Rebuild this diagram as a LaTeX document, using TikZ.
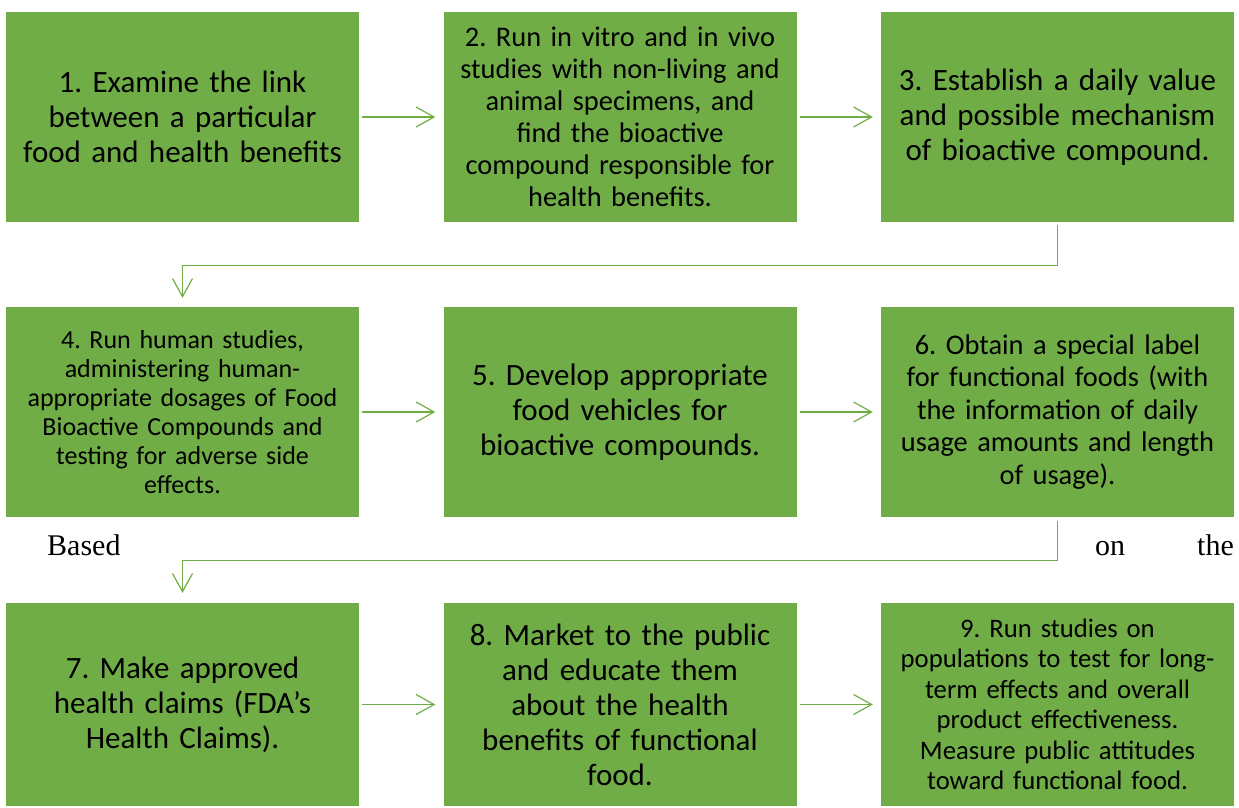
\documentclass[tikz,border=0pt]{standalone}
\usepackage{fontspec}
\setmainfont{Carlito}
\newfontfamily\tnr{Liberation Serif}
\usetikzlibrary{arrows.meta}
\definecolor{accgreen}{HTML}{70AD47}
\frenchspacing
\tikzset{
  stepbox/.style={fill=accgreen, draw=none, inner sep=0pt, minimum width=353pt,
    minimum height=210pt, text width=350pt, align=center, text=black},
  lowbox/.style={stepbox, minimum height=203pt},
  arr/.style={draw=accgreen, line width=1.2pt,
    -{Straight Barb[length=18pt,width=20pt,line width=1.2pt]}},
  bigtxt/.style={font=\fontsize{31}{35}\selectfont},
  plain/.style={font=\tnr\fontsize{30}{36}\selectfont, inner sep=0pt, anchor=base west}
}
\begin{document}
\begin{tikzpicture}[x=1pt,y=-1pt]
\useasboundingbox (0,0) rectangle (1239,807);
% row 1
\node[stepbox, bigtxt] (b1) at (182.5,117) {1. Examine the link\\between a particular\\food and health benefits};
\node[stepbox, font=\fontsize{28.4}{32}\selectfont] (b2) at (620,117) {2. Run in vitro and in vivo\\studies with non-living and\\animal specimens, and\\find the bioactive\\compound responsible for\\health benefits.};
\node[stepbox, bigtxt] (b3) at (1057.5,117) {3. Establish a daily value\\and possible mechanism\\of bioactive compound.};
% row 2
\node[stepbox, font=\fontsize{26}{29}\selectfont] (b4) at (182.5,412) {4. Run human studies,\\administering human-\\appropriate dosages of Food\\Bioactive Compounds and\\testing for adverse side\\effects.};
\node[stepbox, bigtxt] (b5) at (620,412) {5. Develop appropriate\\food vehicles for\\bioactive compounds.};
\node[stepbox, font=\fontsize{28.4}{32.5}\selectfont] (b6) at (1057.5,412) {6. Obtain a special label\\for functional foods (with\\the information of daily\\usage amounts and length\\of usage).};
% row 3
\node[lowbox, bigtxt] (b7) at (182.5,704.5) {7. Make approved\\health claims (FDA’s\\Health Claims).};
\node[lowbox, bigtxt] (b8) at (620,704.5) {8. Market to the public\\and educate them\\about the health\\benefits of functional\\food.};
\node[lowbox, font=\fontsize{26.7}{30.5}\selectfont] (b9) at (1057.5,704.5) {9. Run studies on\\populations to test for long-\\term effects and overall\\product effectiveness.\\Measure public attitudes\\toward functional food.};
% stray paragraph text
\node[plain] (t1) at (47,555) {Based};
\node[plain] (t2) at (1095,555) {on};
\node[plain] (t3) at (1197,555) {the};
% connectors
\draw[arr, shorten <=3pt, shorten >=8pt] (b1) -- (b2);
\draw[arr, shorten <=3pt, shorten >=8pt] (b2) -- (b3);
\draw[arr, shorten <=3pt, shorten >=8pt] (b4) -- (b5);
\draw[arr, shorten <=3pt, shorten >=8pt] (b5) -- (b6);
\draw[arr, shorten <=3pt, shorten >=8pt] (b7) -- (b8);
\draw[arr, shorten <=3pt, shorten >=8pt] (b8) -- (b9);
\draw[arr, shorten <=3pt, shorten >=9pt] (b3.south) -- ++(0,43) -| (b4.north);
\draw[arr, shorten <=4pt, shorten >=10pt] (b6.south) -- ++(0,43) -| (b7.north);
\end{tikzpicture}
\end{document}
